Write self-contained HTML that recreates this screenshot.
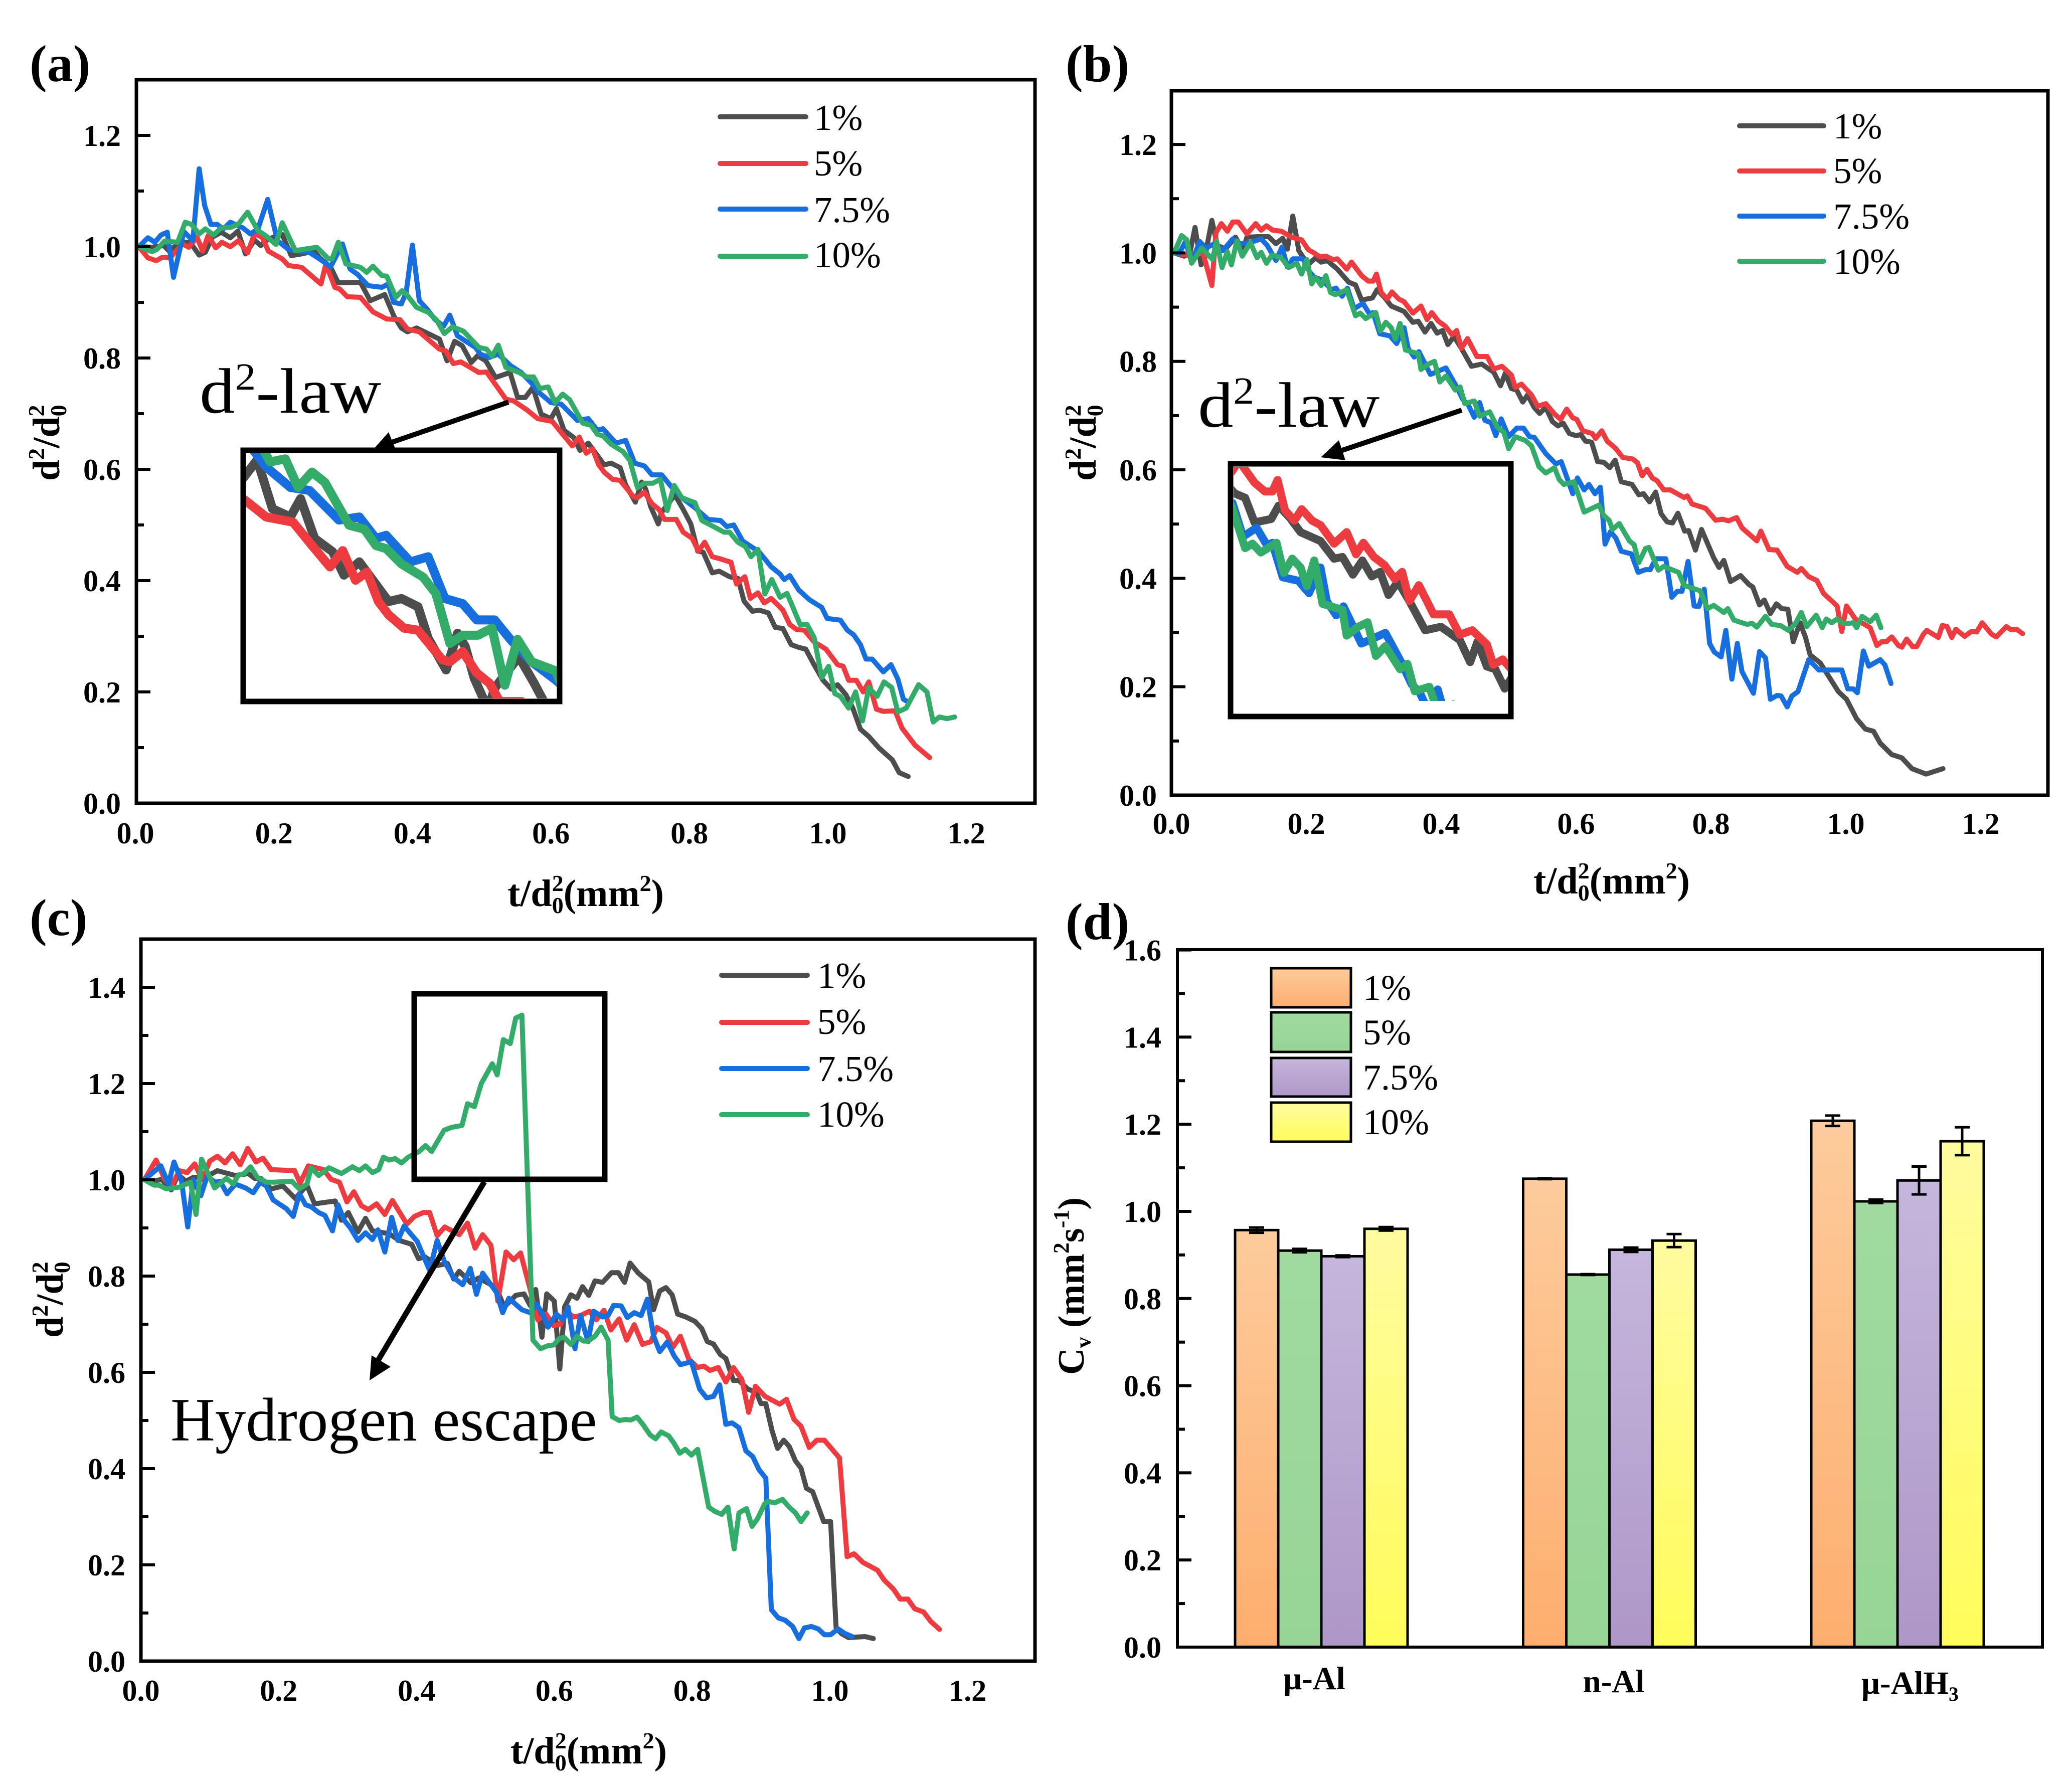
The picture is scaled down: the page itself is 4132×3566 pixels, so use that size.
<!DOCTYPE html>
<html lang="en">
<head>
<meta charset="utf-8">
<title>d2-law droplet combustion charts</title>
<style>
html,body{margin:0;padding:0;background:#fff;}
svg{display:block;}
text{font-family:"Liberation Serif",serif;fill:#000;}
.b{font-weight:bold;}
</style>
</head>
<body>
<svg id="fig" xmlns="http://www.w3.org/2000/svg" width="4132" height="3566" viewBox="0 0 4132 3566">
<defs>
<linearGradient id="gOrange" x1="0" y1="0" x2="0" y2="1"><stop offset="0" stop-color="#fdcb9c"/><stop offset="1" stop-color="#fdae6e"/></linearGradient>
<linearGradient id="gGreen" x1="0" y1="0" x2="0" y2="1"><stop offset="0" stop-color="#a0da9f"/><stop offset="1" stop-color="#97d596"/></linearGradient>
<linearGradient id="gPurple" x1="0" y1="0" x2="0" y2="1"><stop offset="0" stop-color="#c5b6dc"/><stop offset="1" stop-color="#ae97c8"/></linearGradient>
<linearGradient id="gYellow" x1="0" y1="0" x2="0" y2="1"><stop offset="0" stop-color="#fffb9f"/><stop offset="1" stop-color="#fffd5a"/></linearGradient>
<clipPath id="clipA"><rect x="490" y="903" width="621" height="490"/></clipPath>
<clipPath id="clipB"><rect x="2460" y="931" width="547" height="467"/></clipPath>
</defs>
<rect x="0" y="0" width="4132" height="3566" fill="#fff"/>

<text class="b" x="59" y="162" font-size="104">(a)</text>
<text class="b" x="2125" y="162" font-size="104">(b)</text>
<text class="b" x="59" y="1865" font-size="104">(c)</text>
<text class="b" x="2125" y="1873" font-size="104">(d)</text>

<g id="pa"></g>
<g id="pb"></g>
<g id="pc"></g>
<g id="pd"></g>

<text class="b" x="1012" y="1807" font-size="76">t/d<tspan font-size="46" dy="-30">2</tspan><tspan font-size="46" dx="-23" dy="44">0</tspan><tspan dy="-14">(mm</tspan><tspan font-size="46" dy="-30">2</tspan><tspan dy="30">)</tspan></text>
<text class="b" x="3058" y="1782" font-size="76">t/d<tspan font-size="46" dy="-30">2</tspan><tspan font-size="46" dx="-23" dy="44">0</tspan><tspan dy="-14">(mm</tspan><tspan font-size="46" dy="-30">2</tspan><tspan dy="30">)</tspan></text>
<text class="b" x="1018" y="3517" font-size="76">t/d<tspan font-size="46" dy="-30">2</tspan><tspan font-size="46" dx="-23" dy="44">0</tspan><tspan dy="-14">(mm</tspan><tspan font-size="46" dy="-30">2</tspan><tspan dy="30">)</tspan></text>

<text class="b" transform="translate(118,959) rotate(-90)" font-size="76">d<tspan font-size="46" dy="-30">2</tspan><tspan dy="30">/d</tspan><tspan font-size="46" dy="-30">2</tspan><tspan font-size="46" dx="-23" dy="44">0</tspan></text>
<text class="b" transform="translate(2185,959) rotate(-90)" font-size="76">d<tspan font-size="46" dy="-30">2</tspan><tspan dy="30">/d</tspan><tspan font-size="46" dy="-30">2</tspan><tspan font-size="46" dx="-23" dy="44">0</tspan></text>
<text class="b" transform="translate(125,2668) rotate(-90)" font-size="76">d<tspan font-size="46" dy="-30">2</tspan><tspan dy="30">/d</tspan><tspan font-size="46" dy="-30">2</tspan><tspan font-size="46" dx="-23" dy="44">0</tspan></text>
<text class="b" transform="translate(2161,2742) rotate(-90)" font-size="74">C<tspan font-size="44" dy="14">v</tspan><tspan dy="-14"> (mm</tspan><tspan font-size="44" dy="-30">2</tspan><tspan dy="30">s</tspan><tspan font-size="44" dy="-30">-1</tspan><tspan dy="30">)</tspan></text>

<text transform="translate(398,823) scale(1.1,1)" x="0" y="0" font-size="128">d<tspan font-size="76" dy="-46">2</tspan><tspan dy="46">-law</tspan></text>
<text transform="translate(2389,851) scale(1.1,1)" x="0" y="0" font-size="128">d<tspan font-size="76" dy="-46">2</tspan><tspan dy="46">-law</tspan></text>
<text x="340" y="2873" font-size="123">Hydrogen escape</text>

<script>
// ---------- Panel (a) data: [t/d0^2, d^2/d0^2] ----------
const a1 = [[.005,1],[.024,.999],[.041,1.002],[.048,.993],[.066,1.008],[.079,1.008],[.092,.985],[.101,.99],[.111,1.017],[.124,1.026],[.137,1.016],[.148,1.028],[.159,.987],[.172,1.012],[.181,1.002],[.192,1.014],[.212,1.022],[.225,.984],[.24,.987],[.258,.992],[.266,.98],[.282,.963],[.293,.935],[.325,.936],[.339,.903],[.36,.914],[.373,.876],[.384,.854],[.393,.847],[.406,.854],[.439,.834],[.45,.795],[.461,.83],[.472,.822],[.485,.792],[.494,.804],[.506,.795],[.52,.765],[.541,.774],[.552,.729],[.563,.729],[.574,.747],[.586,.699],[.6,.691],[.608,.709],[.619,.67],[.633,.657],[.642,.634],[.654,.647],[.677,.608],[.687,.611],[.7,.603],[.708,.572],[.722,.541],[.731,.577],[.737,.564],[.744,.533],[.755,.502],[.76,.523],[.779,.554],[.791,.528],[.802,.502],[.812,.453],[.82,.451],[.833,.414],[.843,.417],[.858,.407],[.87,.404],[.879,.363],[.891,.345],[.901,.347],[.914,.342],[.924,.316],[.935,.314],[.947,.285],[.958,.28],[.968,.277],[.98,.249],[.993,.221],[1.005,.205],[1.014,.213],[1.026,.195],[1.036,.171],[1.047,.133],[1.059,.12],[1.074,.099],[1.093,.078],[1.103,.055],[1.116,.048]];
const a5 = [[.005,1],[.018,.98],[.03,.975],[.039,.981],[.05,.98],[.068,1.005],[.077,.999],[.089,1.017],[.097,.992],[.105,1.02],[.116,.998],[.125,1.008],[.137,1],[.149,1.011],[.162,.989],[.172,1.023],[.183,1.017],[.192,.992],[.212,.978],[.221,.966],[.24,.963],[.268,.933],[.275,.969],[.288,.927],[.295,.924],[.306,.91],[.325,.909],[.343,.883],[.363,.87],[.382,.869],[.393,.852],[.41,.847],[.439,.816],[.448,.813],[.459,.79],[.47,.793],[.496,.774],[.507,.775],[.535,.726],[.546,.723],[.565,.707],[.581,.691],[.602,.686],[.617,.663],[.631,.642],[.641,.658],[.651,.629],[.66,.637],[.669,.608],[.677,.595],[.689,.582],[.7,.58],[.719,.551],[.725,.549],[.735,.559],[.746,.538],[.756,.528],[.764,.51],[.781,.51],[.791,.487],[.804,.476],[.813,.453],[.822,.469],[.833,.443],[.845,.439],[.86,.433],[.868,.394],[.88,.407],[.888,.368],[.899,.378],[.908,.36],[.918,.368],[.935,.347],[.945,.321],[.955,.312],[.966,.311],[.98,.29],[.997,.277],[1.005,.264],[1.014,.249],[1.022,.246],[1.03,.221],[1.041,.221],[1.051,.2],[1.059,.218],[1.07,.169],[1.08,.165],[1.097,.166],[1.107,.135],[1.126,.104],[1.147,.082]];
const a75 = [[.005,1],[.018,1.016],[.028,1.008],[.037,1.021],[.046,1.026],[.055,.945],[.07,1.027],[.083,1.011],[.092,1.14],[.1,1.074],[.109,1.04],[.118,1.04],[.127,1.032],[.137,1.044],[.155,1.034],[.166,1.023],[.177,1.032],[.191,1.085],[.205,1.011],[.221,.995],[.236,.992],[.251,.99],[.266,.978],[.282,.964],[.299,1.005],[.31,.96],[.321,.95],[.336,.93],[.356,.927],[.365,.933],[.373,.9],[.384,.897],[.391,.918],[.4,1.003],[.41,.903],[.421,.888],[.432,.87],[.445,.857],[.454,.877],[.465,.84],[.476,.831],[.491,.819],[.498,.807],[.511,.801],[.524,.807],[.542,.786],[.557,.774],[.572,.755],[.581,.74],[.6,.72],[.615,.717],[.638,.688],[.654,.691],[.667,.67],[.675,.673],[.694,.647],[.708,.652],[.721,.611],[.735,.606],[.746,.59],[.76,.59],[.773,.57],[.789,.549],[.808,.531],[.827,.51],[.845,.508],[.854,.497],[.864,.5],[.877,.471],[.893,.458],[.901,.451],[.918,.425],[.931,.412],[.937,.402],[.945,.409],[.958,.383],[.974,.365],[.991,.352],[.999,.332],[1.018,.329],[1.028,.311],[1.037,.303],[1.047,.285],[1.055,.259],[1.064,.259],[1.08,.236],[1.091,.249],[1.101,.223],[1.109,.187],[1.113,.184]];
const a10 = [[.005,1],[.024,.991],[.031,.995],[.042,1.01],[.061,1.008],[.072,1.044],[.081,1.04],[.092,1.023],[.101,1.032],[.113,1.021],[.124,1.034],[.138,1.035],[.149,1.041],[.162,1.062],[.177,1.029],[.188,1.02],[.203,1.004],[.212,1.043],[.231,.993],[.262,.999],[.279,.978],[.284,.978],[.293,1.008],[.304,.969],[.325,.963],[.334,.954],[.343,.965],[.356,.948],[.363,.947],[.376,.909],[.385,.921],[.391,.915],[.406,.891],[.423,.882],[.435,.868],[.446,.844],[.458,.856],[.474,.848],[.496,.819],[.507,.816],[.515,.803],[.524,.823],[.535,.783],[.554,.774],[.565,.766],[.575,.766],[.584,.745],[.596,.748],[.606,.72],[.617,.735],[.627,.725],[.646,.683],[.658,.679],[.667,.663],[.675,.66],[.687,.645],[.704,.632],[.714,.616],[.725,.567],[.735,.575],[.747,.575],[.758,.582],[.768,.526],[.778,.571],[.789,.549],[.808,.54],[.818,.508],[.835,.497],[.85,.487],[.858,.487],[.87,.469],[.881,.461],[.889,.443],[.899,.456],[.909,.376],[.919,.402],[.931,.37],[.941,.377],[.96,.321],[.97,.321],[.98,.298],[.991,.226],[1.001,.246],[1.01,.197],[1.018,.192],[1.03,.171],[1.04,.2],[1.05,.148],[1.059,.208],[1.071,.192],[1.081,.218],[1.092,.208],[1.101,.164],[1.113,.171],[1.131,.213],[1.143,.2],[1.152,.146],[1.161,.155],[1.172,.152],[1.183,.155]];

// ---------- Panel (b) data ----------
const b1 = [[.004,1],[.019,.994],[.027,.997],[.035,1.047],[.044,.978],[.049,.988],[.06,1.06],[.068,1.014],[.08,1.007],[.095,1.029],[.106,1.004],[.112,1.029],[.129,1.03],[.144,1.03],[.155,1.017],[.165,1.027],[.172,1.007],[.18,1.068],[.189,1.004],[.197,.989],[.205,.981],[.214,.991],[.222,.983],[.231,.986],[.246,.97],[.263,.946],[.273,.941],[.282,.913],[.298,.917],[.305,.932],[.316,.918],[.326,.902],[.345,.892],[.358,.872],[.366,.874],[.376,.854],[.385,.87],[.394,.852],[.402,.857],[.41,.831],[.419,.846],[.43,.824],[.445,.791],[.46,.795],[.478,.78],[.488,.755],[.495,.778],[.504,.75],[.512,.747],[.521,.725],[.528,.738],[.538,.715],[.546,.704],[.555,.715],[.565,.689],[.573,.681],[.581,.686],[.59,.667],[.6,.663],[.607,.665],[.614,.653],[.623,.651],[.632,.615],[.641,.614],[.65,.604],[.658,.618],[.667,.578],[.683,.573],[.693,.554],[.7,.556],[.709,.541],[.718,.559],[.726,.519],[.735,.504],[.743,.502],[.751,.52],[.761,.487],[.767,.488],[.777,.452],[.786,.49],[.804,.438],[.812,.42],[.819,.433],[.829,.394],[.844,.405],[.856,.389],[.862,.384],[.872,.351],[.879,.36],[.888,.335],[.897,.353],[.905,.344],[.914,.343],[.922,.283],[.932,.318],[.94,.292],[.947,.259],[.962,.244],[.989,.191],[1.001,.177],[1.016,.141],[1.029,.122],[1.041,.118],[1.051,.096],[1.068,.075],[1.083,.069],[1.098,.049],[1.119,.039],[1.144,.049]];
const b5 = [[.004,1],[.023,.996],[.038,.998],[.047,.999],[.06,.94],[.066,1.037],[.074,1.054],[.083,1.04],[.091,1.057],[.099,1.057],[.112,1.035],[.125,1.054],[.133,1.042],[.141,1.05],[.15,1.042],[.163,1.04],[.178,1.029],[.193,1.024],[.203,1.006],[.21,1.001],[.22,.993],[.229,.994],[.239,.988],[.246,.989],[.26,.97],[.267,.983],[.282,.958],[.292,.948],[.299,.948],[.304,.961],[.311,.927],[.32,.915],[.327,.928],[.337,.915],[.345,.91],[.358,.889],[.37,.902],[.379,.877],[.386,.89],[.396,.874],[.406,.865],[.416,.849],[.423,.857],[.43,.824],[.439,.842],[.453,.809],[.468,.809],[.478,.786],[.49,.791],[.504,.775],[.51,.752],[.519,.758],[.534,.738],[.543,.717],[.555,.722],[.568,.703],[.577,.693],[.586,.712],[.595,.696],[.601,.693],[.61,.672],[.624,.667],[.629,.658],[.638,.672],[.646,.653],[.659,.639],[.669,.623],[.684,.62],[.691,.613],[.698,.589],[.705,.601],[.713,.585],[.72,.58],[.73,.563],[.74,.563],[.76,.549],[.765,.552],[.772,.537],[.792,.529],[.807,.507],[.817,.509],[.826,.506],[.838,.512],[.846,.493],[.868,.469],[.874,.487],[.886,.453],[.898,.452],[.913,.422],[.928,.411],[.934,.418],[.945,.403],[.957,.396],[.967,.372],[.987,.349],[.994,.302],[1.001,.349],[1.014,.325],[1.036,.309],[1.046,.276],[1.053,.283],[1.06,.283],[1.068,.292],[1.078,.276],[1.083,.273],[1.09,.288],[1.099,.274],[1.105,.274],[1.115,.297],[1.12,.304],[1.137,.291],[1.143,.313],[1.15,.311],[1.157,.291],[1.163,.306],[1.176,.293],[1.186,.302],[1.194,.301],[1.202,.318],[1.216,.297],[1.223,.292],[1.238,.311],[1.245,.305],[1.253,.306],[1.262,.298]];
const b75 = [[.004,1],[.011,.998],[.021,1.021],[.03,.983],[.042,1.021],[.051,1.009],[.064,1.017],[.076,1.004],[.091,1.026],[.102,1.017],[.117,1.019],[.133,1.026],[.142,1.014],[.155,.986],[.164,1.011],[.172,.974],[.18,.989],[.195,.989],[.205,.965],[.212,.955],[.224,.95],[.237,.932],[.244,.935],[.253,.92],[.261,.935],[.271,.897],[.284,.907],[.294,.887],[.299,.89],[.309,.851],[.324,.847],[.334,.833],[.345,.862],[.351,.824],[.36,.808],[.367,.818],[.384,.776],[.392,.78],[.407,.788],[.423,.753],[.432,.73],[.44,.72],[.449,.697],[.457,.724],[.465,.691],[.474,.687],[.481,.663],[.489,.694],[.5,.661],[.512,.677],[.522,.677],[.531,.661],[.538,.66],[.555,.63],[.57,.611],[.578,.615],[.595,.556],[.602,.585],[.612,.563],[.619,.573],[.628,.556],[.636,.568],[.643,.463],[.651,.486],[.659,.474],[.667,.45],[.682,.445],[.692,.411],[.703,.416],[.71,.416],[.718,.436],[.733,.436],[.742,.365],[.75,.376],[.757,.376],[.766,.431],[.775,.349],[.782,.348],[.79,.38],[.798,.28],[.805,.264],[.815,.255],[.822,.304],[.831,.214],[.839,.28],[.846,.228],[.863,.188],[.872,.265],[.881,.253],[.888,.177],[.898,.184],[.904,.183],[.913,.163],[.92,.183],[.929,.191],[.945,.25],[.96,.231],[.994,.231],[1.003,.196],[1.011,.196],[1.017,.189],[1.026,.266],[1.034,.238],[1.051,.25],[1.058,.24],[1.067,.206]];
const b10 = [[.004,1],[.015,1.032],[.023,1.024],[.03,.981],[.045,1.009],[.061,.988],[.067,1.022],[.075,.973],[.083,1.002],[.089,.978],[.097,1.022],[.105,.994],[.117,1.019],[.127,.991],[.133,1.001],[.141,.981],[.149,.996],[.163,.991],[.174,.973],[.186,.981],[.193,.961],[.201,.988],[.208,.943],[.214,.955],[.222,.94],[.229,.958],[.236,.927],[.243,.923],[.26,.932],[.273,.884],[.28,.889],[.288,.879],[.303,.89],[.31,.856],[.318,.872],[.326,.862],[.332,.841],[.339,.87],[.347,.821],[.366,.814],[.37,.785],[.381,.795],[.39,.8],[.398,.762],[.407,.773],[.421,.747],[.428,.753],[.435,.722],[.449,.727],[.457,.699],[.472,.707],[.483,.679],[.493,.669],[.5,.639],[.51,.661],[.525,.654],[.534,.644],[.545,.606],[.555,.594],[.568,.604],[.575,.582],[.582,.573],[.597,.578],[.612,.522],[.634,.535],[.641,.516],[.649,.507],[.654,.49],[.664,.501],[.679,.469],[.686,.462],[.693,.429],[.703,.455],[.708,.457],[.722,.415],[.73,.422],[.752,.411],[.76,.387],[.784,.377],[.795,.344],[.804,.35],[.819,.337],[.825,.344],[.834,.323],[.846,.318],[.854,.315],[.861,.317],[.868,.31],[.881,.33],[.89,.315],[.903,.313],[.915,.304],[.925,.316],[.934,.337],[.942,.311],[.956,.332],[.965,.309],[.971,.325],[.979,.318],[.987,.325],[.997,.316],[1.011,.318],[1.016,.309],[1.024,.33],[1.036,.32],[1.045,.332],[1.052,.309]];

// ---------- Panel (c) data ----------
const c1 = [[.005,1],[.019,.997],[.03,1.001],[.044,.979],[.054,1.011],[.065,.997],[.076,1.005],[.093,1.005],[.111,1.019],[.137,1.009],[.156,1.013],[.165,1.003],[.174,1.003],[.189,.981],[.206,.987],[.224,.961],[.241,.989],[.252,.95],[.282,.956],[.291,.916],[.301,.932],[.315,.892],[.326,.92],[.336,.894],[.36,.888],[.375,.874],[.393,.866],[.403,.836],[.412,.84],[.43,.822],[.445,.826],[.454,.794],[.462,.81],[.479,.786],[.49,.796],[.516,.776],[.527,.736],[.534,.745],[.544,.76],[.556,.763],[.565,.739],[.573,.772],[.582,.673],[.589,.763],[.6,.748],[.608,.607],[.615,.736],[.624,.761],[.633,.754],[.641,.778],[.65,.76],[.659,.79],[.67,.787],[.683,.807],[.693,.807],[.702,.787],[.71,.827],[.722,.806],[.737,.788],[.744,.73],[.753,.769],[.762,.776],[.771,.761],[.779,.721],[.791,.715],[.804,.706],[.814,.691],[.822,.664],[.831,.659],[.841,.637],[.849,.629],[.86,.583],[.868,.583],[.881,.565],[.893,.559],[.9,.535],[.907,.535],[.916,.479],[.924,.442],[.933,.459],[.941,.446],[.95,.416],[.958,.401],[.966,.359],[.975,.352],[.991,.29],[1.001,.29],[1.009,.069],[1.017,.057],[1.027,.049],[1.051,.051],[1.063,.047]];
const c5 = [[.005,1],[.022,1.041],[.035,1],[.044,.987],[.056,1.019],[.067,1.015],[.078,1.033],[.089,1],[.1,1.039],[.111,1.049],[.122,1.035],[.133,1.054],[.144,1.031],[.155,1.065],[.167,1.037],[.177,1.045],[.189,1.021],[.223,1.019],[.231,.993],[.243,1.029],[.265,1.021],[.276,1.001],[.288,.995],[.299,.954],[.309,.975],[.32,.946],[.33,.938],[.342,.95],[.354,.928],[.365,.957],[.386,.908],[.397,.924],[.41,.932],[.419,.932],[.43,.884],[.441,.902],[.462,.886],[.474,.91],[.485,.858],[.496,.886],[.508,.864],[.518,.748],[.53,.85],[.541,.834],[.551,.848],[.565,.772],[.576,.709],[.588,.721],[.599,.697],[.609,.7],[.617,.727],[.628,.715],[.638,.718],[.651,.727],[.661,.709],[.672,.729],[.682,.688],[.694,.711],[.705,.667],[.716,.699],[.728,.658],[.74,.664],[.749,.693],[.762,.682],[.772,.652],[.783,.675],[.795,.628],[.808,.61],[.817,.613],[.826,.604],[.838,.61],[.849,.58],[.86,.61],[.872,.586],[.882,.517],[.892,.571],[.906,.55],[.927,.534],[.937,.544],[.948,.502],[.958,.488],[.97,.444],[.981,.459],[.992,.459],[1.014,.422],[1.025,.217],[1.035,.223],[1.048,.205],[1.069,.189],[1.079,.168],[1.092,.15],[1.102,.129],[1.113,.129],[1.123,.109],[1.136,.102],[1.146,.083],[1.159,.066]];
const c75 = [[.005,1],[.029,1.029],[.04,.991],[.048,1.037],[.059,.997],[.068,.902],[.076,1],[.087,.967],[.096,1.007],[.108,.995],[.115,.997],[.125,.971],[.137,.991],[.152,.983],[.163,.973],[.173,.995],[.182,.987],[.192,.958],[.211,.94],[.221,.924],[.23,.971],[.239,.948],[.247,.944],[.258,.932],[.267,.926],[.278,.894],[.286,.948],[.295,.916],[.304,.9],[.315,.874],[.326,.89],[.336,.876],[.344,.896],[.354,.85],[.364,.922],[.373,.874],[.382,.904],[.401,.872],[.419,.812],[.43,.874],[.44,.832],[.453,.798],[.467,.782],[.478,.816],[.487,.762],[.496,.806],[.516,.766],[.525,.724],[.534,.754],[.553,.73],[.565,.724],[.574,.742],[.582,.724],[.591,.694],[.603,.721],[.613,.709],[.62,.736],[.63,.649],[.638,.718],[.649,.664],[.657,.727],[.67,.715],[.678,.718],[.686,.739],[.697,.738],[.706,.714],[.716,.724],[.726,.718],[.735,.752],[.744,.676],[.753,.643],[.764,.663],[.774,.634],[.783,.616],[.799,.622],[.811,.565],[.821,.547],[.831,.55],[.84,.574],[.849,.492],[.858,.495],[.868,.485],[.878,.437],[.888,.425],[.897,.398],[.907,.38],[.915,.107],[.925,.09],[.935,.085],[.946,.072],[.955,.047],[.963,.069],[.973,.072],[.983,.067],[.992,.055],[1.001,.055],[1.012,.067],[1.021,.058],[1.032,.051]];
const c10 = [[.005,1],[.019,.989],[.026,.989],[.037,.981],[.056,.985],[.072,.995],[.08,.928],[.088,1.043],[.107,.983],[.124,1.003],[.134,.991],[.141,1.009],[.15,1.013],[.159,1.027],[.169,1.005],[.182,.995],[.193,.995],[.219,.997],[.23,.981],[.241,.991],[.247,1.025],[.258,1.009],[.273,1.025],[.291,1.013],[.307,1.027],[.317,1.019],[.326,1.029],[.336,1.015],[.345,1.021],[.352,1.047],[.36,1.041],[.369,1.044],[.378,1.035],[.388,1.047],[.404,1.059],[.413,1.071],[.422,1.059],[.44,1.103],[.451,1.109],[.466,1.113],[.474,1.158],[.484,1.152],[.494,1.2],[.51,1.241],[.517,1.218],[.526,1.291],[.536,1.283],[.544,1.336],[.553,1.342],[.569,.667],[.58,.649],[.59,.655],[.599,.657],[.607,.67],[.614,.673],[.624,.658],[.633,.675],[.642,.665],[.649,.665],[.659,.675],[.668,.694],[.678,.667],[.684,.508],[.694,.5],[.703,.502],[.711,.501],[.72,.507],[.729,.491],[.739,.47],[.747,.462],[.755,.476],[.766,.468],[.774,.452],[.782,.432],[.79,.44],[.799,.428],[.808,.44],[.824,.32],[.833,.311],[.843,.305],[.852,.32],[.861,.233],[.868,.308],[.879,.317],[.887,.28],[.895,.296],[.905,.326],[.91,.332],[.92,.329],[.931,.336],[.941,.32],[.95,.308],[.958,.29],[.967,.308]];

// ---------- Panel (d) data ----------
const categories = ["\u03BC-Al","n-Al","\u03BC-AlH"];
const cv1 = [.957,1.075,1.208];
const cv5 = [.91,.855,1.023];
const cv75 = [.897,.912,1.071];
const cv10 = [.96,.933,1.161];
const err1 = [.006,.001,.012];
const err5 = [.004,.001,.004];
const err75 = [.002,.005,.032];
const err10 = [.004,.015,.032];

// ---------- Tick labels ----------
const legendLabels = ["1%","5%","7.5%","10%"];
const xTickLabels = ["0.0","0.2","0.4","0.6","0.8","1.0","1.2"];
const yTicksAB = ["0.0","0.2","0.4","0.6","0.8","1.0","1.2"];
const yTicksC = ["0.0","0.2","0.4","0.6","0.8","1.0","1.2","1.4"];
const yTicksD = ["0.0","0.2","0.4","0.6","0.8","1.0","1.2","1.4","1.6"];

const NS = "http://www.w3.org/2000/svg";
const COLORS = ["#4d4d4d","#ee3b40","#176ede","#33ac6a"];
function mk(tag, attrs, parent){
  const el = document.createElementNS(NS, tag);
  for (const k in attrs) el.setAttribute(k, attrs[k]);
  parent.appendChild(el);
  return el;
}
function drawLine(data, xf, yf, color, w, parent, name){
  const pts = data.map(function(p){ return xf(p[0]).toFixed(1) + "," + yf(p[1]).toFixed(1); }).join(" ");
  const el = mk("polyline", {points: pts, fill: "none", stroke: color, "stroke-width": w, "stroke-linejoin": "round", "stroke-linecap": "round"}, parent);
  
  
}
function yAxisTicks(labels, yf, axisX, labelX, parent, maxV){
  labels.forEach(function(lab){
    const v = parseFloat(lab);
    const tk = mk("line", {x1: axisX, x2: axisX + 28, y1: yf(v), y2: yf(v), stroke: "#000", "stroke-width": 6}, parent);
    
    
    const tx = mk("text", {x: labelX, y: yf(v) + 21, "font-size": 60, "font-weight": "bold", "text-anchor": "end"}, parent);
    tx.textContent = lab;
    
    
    if (v + 0.1 < maxV) {
      const mn = mk("line", {x1: axisX, x2: axisX + 15, y1: yf(v + 0.1), y2: yf(v + 0.1), stroke: "#000", "stroke-width": 6}, parent);
      
      
    }
  });
}
function xAxisLabels(labels, xf, baseY, parent){
  labels.forEach(function(lab){
    const tx = mk("text", {x: xf(parseFloat(lab)), y: baseY, "font-size": 60, "font-weight": "bold", "text-anchor": "middle"}, parent);
    tx.textContent = lab;
    
    
  });
}
function frame(x, y, w, h, sw, parent, name){
  const r = mk("rect", {x: x, y: y, width: w, height: h, fill: "none", stroke: "#000", "stroke-width": sw}, parent);
  
  
}
function lineLegend(x1, x2, textX, ys, bases, parent){
  legendLabels.forEach(function(lab, i){
    const l = mk("line", {x1: x1, x2: x2, y1: ys[i], y2: ys[i], stroke: COLORS[i], "stroke-width": 10, "stroke-linecap": "round"}, parent);
    
    
    const t = mk("text", {x: textX, y: bases[i], "font-size": 73}, parent);
    t.textContent = lab;
    
    
  });
}
function arrow(x1, y1, x2, y2, head, sw, parent, name){
  const g = mk("g", {}, parent);
  
  
  mk("line", {x1: x1, y1: y1, x2: x2, y2: y2, stroke: "#000", "stroke-width": sw}, g);
  mk("polygon", {points: head, fill: "#000"}, g);
}
function inset(data, tMin, tMax, vMin, vMax, px0, py0, pw, ph, clip, w, parent){
  const ix = function(t){ return px0 + (t - tMin) / (tMax - tMin) * pw; };
  const iy = function(v){ return py0 + (vMax - v) / (vMax - vMin) * ph; };
  const g = mk("g", {"clip-path": "url(#" + clip + ")"}, parent);
  
  
  data.forEach(function(s, i){
    drawLine(s, ix, iy, COLORS[i], w, g, 'inset-series');
  });
}

// Panel (a)
const pa = document.getElementById("pa");
const xA = function(t){ return 270 + 1381 * t; };
const yA = function(v){ return 1602 - 1110 * v; };
[a1, a5, a75, a10].forEach(function(s, i){ drawLine(s, xA, yA, COLORS[i], 10, pa, 'series-' + legendLabels[i].replace('%','pct').replace('.','-')); });
frame(272, 159, 1792, 1443, 7, pa, 'plot-frame-a');
yAxisTicks(yTicksAB, yA, 272, 241, pa, 1.3);
xAxisLabels(xTickLabels, xA, 1682, pa);
lineLegend(1436, 1607, 1623, [233,326,417,511], [259,350,443,533], pa);
const rA = mk("rect", {x: 485, y: 898, width: 631, height: 501, fill: "#fff"}, pa);


inset([a1, a5, a75, a10], .565, .809, .513, .754, 490, 903, 621, 490, "clipA", 18, pa);
frame(485, 898, 631, 501, 11, pa, 'inset-frame-a');
arrow(1014, 802, 770, 886, "742,899 775,862 790,899", 10, pa, 'inset-arrow-a');

// Panel (b)
const pb = document.getElementById("pb");
const xB = function(t){ return 2336 + 1345 * t; };
const yB = function(v){ return 1586 - 1081.6 * v; };
[b1, b5, b75, b10].forEach(function(s, i){ drawLine(s, xB, yB, COLORS[i], 10, pb, 'series-' + legendLabels[i].replace('%','pct').replace('.','-')); });
frame(2336, 181, 1748, 1405, 7, pb, 'plot-frame-b');
yAxisTicks(yTicksAB, yB, 2336, 2307, pb, 1.3);
xAxisLabels(xTickLabels, xB, 1663, pb);
lineLegend(3469, 3637, 3656, [251,341,431,521], [276,365,456,546], pb);
const rB = mk("rect", {x: 2454, y: 925, width: 559, height: 504, fill: "#fff"}, pb);


inset([b1, b5, b75, b10], .262, .524, .711, .976, 2460, 931, 547, 467, "clipB", 16, pb);
frame(2454, 925, 559, 504, 11, pb, 'inset-frame-b');
arrow(2915, 818, 2662, 903, "2634,912 2670,878 2683,918", 10, pb, 'inset-arrow-b');

// Panel (c)
const pc = document.getElementById("pc");
const xC = function(t){ return 281 + 1374 * t; };
const yC = function(v){ return 3313 - 960 * v; };
[c1, c5, c75, c10].forEach(function(s, i){ drawLine(s, xC, yC, COLORS[i], 10, pc, 'series-' + legendLabels[i].replace('%','pct').replace('.','-')); });
frame(281, 1873, 1783, 1440, 7, pc, 'plot-frame-c');
yAxisTicks(yTicksC, yC, 281, 250, pc, 1.5);
xAxisLabels(xTickLabels, xC, 3392, pc);
lineLegend(1439, 1610, 1630, [1945,2039,2131,2223], [1970,2062,2156,2247], pc);
frame(826, 1982, 380, 370, 11, pc, 'hydrogen-escape-box');
arrow(966, 2357, 754, 2713, "737,2753 741,2703 779,2726", 11, pc, 'hydrogen-escape-arrow');

// Panel (d)
const pd = document.getElementById("pd");
const groupX = function(i){ return 2635 + 574.5 * i; };
const barX = function(g, s){ return groupX(g) + (s - 2) * 86; };
const yD = function(v){ return 3285 - 869 * v; };
const FILLS = ["url(#gOrange)","url(#gGreen)","url(#gPurple)","url(#gYellow)"];
[cv1, cv5, cv75, cv10].forEach(function(vals, s){
  vals.forEach(function(v, g){
    const r = mk("rect", {x: barX(g, s), y: yD(v), width: 86, height: yD(0) - yD(v), fill: FILLS[s], stroke: "#000", "stroke-width": 5}, pd);
    
    
  });
});
[err1, err5, err75, err10].forEach(function(errs, s){
  const vals = [cv1, cv5, cv75, cv10][s];
  errs.forEach(function(e, g){
    const cx = barX(g, s) + 43;
    const eb = mk("g", {stroke: "#000", "stroke-width": 5}, pd);
    
    
    mk("line", {x1: cx, x2: cx, y1: yD(vals[g] + e), y2: yD(vals[g] - e)}, eb);
    mk("line", {x1: cx - 15, x2: cx + 15, y1: yD(vals[g] + e), y2: yD(vals[g] + e)}, eb);
    mk("line", {x1: cx - 15, x2: cx + 15, y1: yD(vals[g] - e), y2: yD(vals[g] - e)}, eb);
  });
});
frame(2348, 1894, 1725, 1391, 6, pd, 'plot-frame-d');
yAxisTicks(yTicksD, yD, 2348, 2316, pd, 1.6);
const catCenters = [2621, 3218, 3809];
const catBases = [3369, 3375, 3378];
categories.forEach(function(c, i){
  const t = mk("text", {x: catCenters[i], y: catBases[i], "font-size": 65, "font-weight": "bold", "text-anchor": "middle"}, pd);
  t.textContent = c;
  if (i === 2) {
    const sub = mk("tspan", {"font-size": 40, dy: 14}, t);
    sub.textContent = "3";
  }
  
  
});
const swatchY = [1931, 2019, 2110, 2199];
const swatchH = [78, 79, 77, 78];
const swatchText = [1994, 2083, 2173, 2262];
legendLabels.forEach(function(lab, i){
  const r = mk("rect", {x: 2535, y: swatchY[i], width: 159, height: swatchH[i], fill: FILLS[i], stroke: "#000", "stroke-width": 5}, pd);
  
  
  const t = mk("text", {x: 2718, y: swatchText[i], "font-size": 72}, pd);
  t.textContent = lab;
  
  
});
</script>
</svg>
</body>
</html>
